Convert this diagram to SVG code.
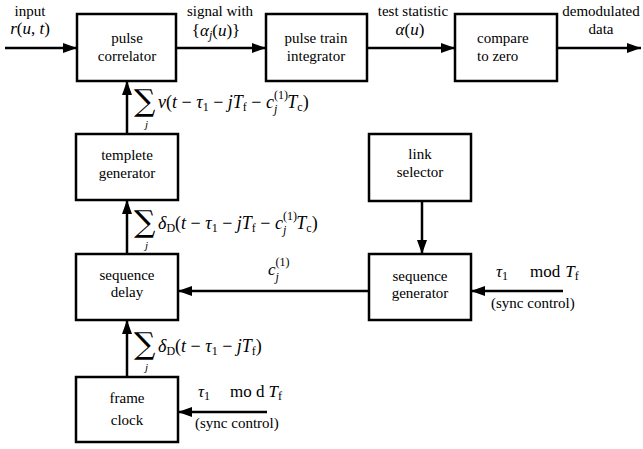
<svg xmlns="http://www.w3.org/2000/svg" width="643" height="449" viewBox="0 0 643 449">
<defs>
<marker id="ah" viewBox="0 0 14 10" refX="14" refY="5" markerWidth="14" markerHeight="10" markerUnits="userSpaceOnUse" orient="auto">
<path d="M0,0 L14,5 L0,10 Z" fill="#000"/>
</marker>
</defs>
<style>
.box{fill:#fff;stroke:#000;stroke-width:2.5}
.ln{fill:none;stroke:#000;stroke-width:2.5;marker-end:url(#ah)}
</style>
<rect width="643" height="449" fill="#fff"/>
<g id="connectors">
<path class="ln" d="M5,48 H77"/>
<path class="ln" d="M176,48 H266"/>
<path class="ln" d="M367,48 H455"/>
<path class="ln" d="M557,48 H641"/>
<path class="ln" d="M127,134 V81"/>
<path class="ln" d="M127,254 V200"/>
<path class="ln" d="M127,377 V320"/>
<path class="ln" d="M422,201 V254"/>
<path class="ln" d="M563,291 H471"/>
<path class="ln" d="M369,291 H178"/>
<path class="ln" d="M267,412 H178"/>
</g>
<g id="pulse-correlator" text-anchor="middle">
<rect class="box" x="77" y="14" width="99" height="67"/>
<text font-family="Liberation Serif, DejaVu Serif, serif" font-size="15" x="127" y="43">pulse</text>
<text font-family="Liberation Serif, DejaVu Serif, serif" font-size="15" x="127" y="61">correlator</text>
</g>
<g id="pulse-train-integrator" text-anchor="middle">
<rect class="box" x="266" y="14" width="101" height="67"/>
<text font-family="Liberation Serif, DejaVu Serif, serif" font-size="15" x="316" y="43">pulse train</text>
<text font-family="Liberation Serif, DejaVu Serif, serif" font-size="15" x="316" y="61">integrator</text>
</g>
<g id="compare-to-zero">
<rect class="box" x="455" y="14" width="102" height="67"/>
<text font-family="Liberation Serif, DejaVu Serif, serif" font-size="15" x="477" y="43">compare</text>
<text font-family="Liberation Serif, DejaVu Serif, serif" font-size="15" x="477" y="61">to zero</text>
</g>
<g id="templete-generator" text-anchor="middle">
<rect class="box" x="76" y="134" width="102" height="66"/>
<text font-family="Liberation Serif, DejaVu Serif, serif" font-size="15" x="127" y="160">templete</text>
<text font-family="Liberation Serif, DejaVu Serif, serif" font-size="15" x="127" y="178">generator</text>
</g>
<g id="sequence-delay" text-anchor="middle">
<rect class="box" x="76" y="254" width="102" height="66"/>
<text font-family="Liberation Serif, DejaVu Serif, serif" font-size="15" x="127" y="280">sequence</text>
<text font-family="Liberation Serif, DejaVu Serif, serif" font-size="15" x="127" y="297">delay</text>
</g>
<g id="frame-clock" text-anchor="middle">
<rect class="box" x="76" y="377" width="102" height="65"/>
<text font-family="Liberation Serif, DejaVu Serif, serif" font-size="15" x="127" y="403">frame</text>
<text font-family="Liberation Serif, DejaVu Serif, serif" font-size="15" x="127" y="425">clock</text>
</g>
<g id="link-selector" text-anchor="middle">
<rect class="box" x="369" y="134" width="102" height="67"/>
<text font-family="Liberation Serif, DejaVu Serif, serif" font-size="15" x="420" y="159">link</text>
<text font-family="Liberation Serif, DejaVu Serif, serif" font-size="15" x="420" y="177">selector</text>
</g>
<g id="sequence-generator" text-anchor="middle">
<rect class="box" x="369" y="254" width="102" height="66"/>
<text font-family="Liberation Serif, DejaVu Serif, serif" font-size="15" x="420" y="281">sequence</text>
<text font-family="Liberation Serif, DejaVu Serif, serif" font-size="15" x="420" y="298">generator</text>
</g>
<g id="labels">
<text font-family="Liberation Serif, DejaVu Serif, serif" font-size="15" text-anchor="middle" x="30" y="16">input</text>
<text font-family="Liberation Serif, DejaVu Serif, serif" text-anchor="middle" font-size="17" x="30" y="34"><tspan font-style="italic">r</tspan>(<tspan font-style="italic">u</tspan>, <tspan font-style="italic">t</tspan>)</text>
<text font-family="Liberation Serif, DejaVu Serif, serif" font-size="15" text-anchor="middle" x="220" y="16">signal with</text>
<text font-family="Liberation Serif, DejaVu Serif, serif" text-anchor="middle" font-size="17" x="216" y="36">{<tspan font-style="italic">α</tspan><tspan font-style="italic" font-size="12" dy="3">j</tspan><tspan dy="-3">(</tspan><tspan font-style="italic">u</tspan>)}</text>
<text font-family="Liberation Serif, DejaVu Serif, serif" font-size="15" text-anchor="middle" x="413" y="16">test statistic</text>
<text font-family="Liberation Serif, DejaVu Serif, serif" text-anchor="middle" font-size="17" x="410" y="35"><tspan font-style="italic">α</tspan>(<tspan font-style="italic">u</tspan>)</text>
<text font-family="Liberation Serif, DejaVu Serif, serif" font-size="15" text-anchor="middle" x="601" y="16">demodulated</text>
<text font-family="Liberation Serif, DejaVu Serif, serif" font-size="15" text-anchor="middle" x="601" y="34">data</text>

<text font-family="DejaVu Serif, serif" font-size="30" x="134" y="111">∑</text>
<text font-family="Liberation Serif, DejaVu Serif, serif" font-style="italic" font-size="11" x="145" y="128">j</text>
<text font-family="Liberation Serif, DejaVu Serif, serif" font-size="18" x="158" y="108"><tspan font-style="italic">v</tspan>(<tspan font-style="italic">t</tspan> − <tspan font-style="italic">τ</tspan><tspan font-size="12" dy="3">1</tspan><tspan dy="-3"> − </tspan><tspan font-style="italic">jT</tspan><tspan font-size="12" dy="3">f</tspan><tspan dy="-3"> − </tspan><tspan font-style="italic">c</tspan><tspan font-size="12" dy="-9">(1)</tspan><tspan font-size="12" font-style="italic" dx="-14" dy="14">j</tspan><tspan font-style="italic" dx="10" dy="-5">T</tspan><tspan font-size="12" dy="3">c</tspan><tspan dy="-3">)</tspan></text>

<text font-family="DejaVu Serif, serif" font-size="30" x="134" y="232">∑</text>
<text font-family="Liberation Serif, DejaVu Serif, serif" font-style="italic" font-size="11" x="145" y="249">j</text>
<text font-family="Liberation Serif, DejaVu Serif, serif" font-size="18" x="158" y="229"><tspan font-style="italic">δ</tspan><tspan font-size="12" dy="3">D</tspan><tspan dy="-3">(</tspan><tspan font-style="italic">t</tspan> − <tspan font-style="italic">τ</tspan><tspan font-size="12" dy="3">1</tspan><tspan dy="-3"> − </tspan><tspan font-style="italic">jT</tspan><tspan font-size="12" dy="3">f</tspan><tspan dy="-3"> − </tspan><tspan font-style="italic">c</tspan><tspan font-size="12" dy="-9">(1)</tspan><tspan font-size="12" font-style="italic" dx="-14" dy="14">j</tspan><tspan font-style="italic" dx="10" dy="-5">T</tspan><tspan font-size="12" dy="3">c</tspan><tspan dy="-3">)</tspan></text>

<text font-family="DejaVu Serif, serif" font-size="30" x="134" y="354">∑</text>
<text font-family="Liberation Serif, DejaVu Serif, serif" font-style="italic" font-size="11" x="145" y="371">j</text>
<text font-family="Liberation Serif, DejaVu Serif, serif" font-size="18" x="158" y="352"><tspan font-style="italic">δ</tspan><tspan font-size="12" dy="3">D</tspan><tspan dy="-3">(</tspan><tspan font-style="italic">t</tspan> − <tspan font-style="italic">τ</tspan><tspan font-size="12" dy="3">1</tspan><tspan dy="-3"> − </tspan><tspan font-style="italic">jT</tspan><tspan font-size="12" dy="3">f</tspan><tspan dy="-3">)</tspan></text>

<text font-family="Liberation Serif, DejaVu Serif, serif" font-size="17" x="268" y="275"><tspan font-style="italic">c</tspan><tspan font-size="12" dy="-9">(1)</tspan><tspan font-size="12" font-style="italic" dx="-14" dy="15">j</tspan></text>

<text font-family="Liberation Serif, DejaVu Serif, serif" font-size="17" x="496" y="277"><tspan font-style="italic">τ</tspan><tspan font-size="12" dy="3">1</tspan><tspan dy="-3" x="530">mod</tspan><tspan font-style="italic" dx="5">T</tspan><tspan font-size="12" dy="3">f</tspan></text>
<text font-family="Liberation Serif, DejaVu Serif, serif" font-size="15" x="491" y="308">(sync control)</text>

<text font-family="Liberation Serif, DejaVu Serif, serif" font-size="17" x="198" y="397"><tspan font-style="italic">τ</tspan><tspan font-size="12" dy="3">1</tspan><tspan dy="-3" x="230">mo d</tspan><tspan font-style="italic" dx="4">T</tspan><tspan font-size="12" dy="3">f</tspan></text>
<text font-family="Liberation Serif, DejaVu Serif, serif" font-size="15" x="195" y="428">(sync control)</text>
</g>
</svg>
